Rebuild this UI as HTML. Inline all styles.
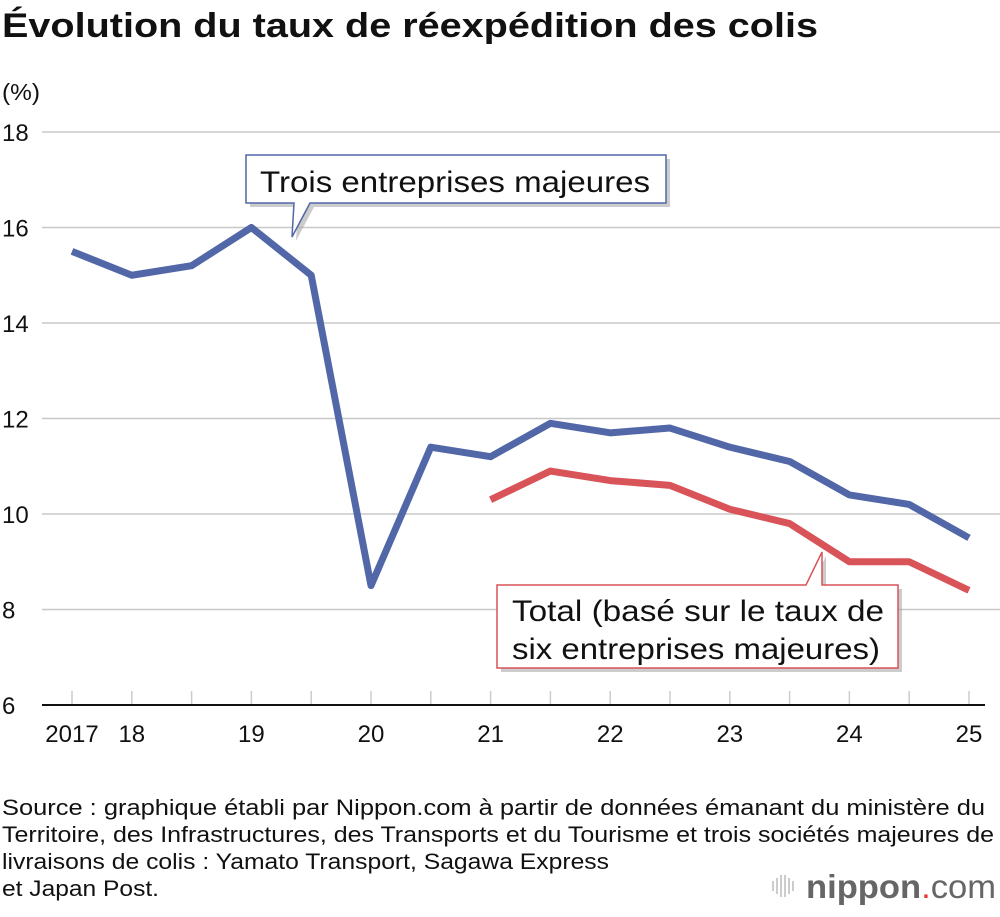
<!DOCTYPE html>
<html><head><meta charset="utf-8"><style>
html,body{margin:0;padding:0;background:#fff;}
body{width:1000px;height:912px;overflow:hidden;font-family:"Liberation Sans",sans-serif;}
</style></head><body>
<svg id="chart" width="1000" height="912" viewBox="0 0 1000 912" xmlns="http://www.w3.org/2000/svg" font-family="Liberation Sans, sans-serif">
<text x="2" y="37" font-size="34" font-weight="bold" fill="#111" textLength="816" lengthAdjust="spacingAndGlyphs">Évolution du taux de réexpédition des colis</text>
<text x="2" y="100" font-size="23" fill="#111" textLength="38" lengthAdjust="spacingAndGlyphs">(%)</text>
<g id="grid"></g>
<g id="marks"></g>
<g>
<path d="M246,155 H666 V203 H310 L292,237 L294,203 H246 Z" fill="#aaa" transform="translate(4,4)" opacity="0.6"/>
<path d="M246,155 H666 V203 H310 L292,237 L294,203 H246 Z" fill="#fff" stroke="#5167a7" stroke-width="1.5"/>
<text x="260" y="192" font-size="30" fill="#111" textLength="390" lengthAdjust="spacingAndGlyphs">Trois entreprises majeures</text>
</g>
<g>
<path d="M497,585 H806 L822,552 V585 H898 V668 H497 Z" fill="#aaa" transform="translate(4,4)" opacity="0.6"/>
<path d="M497,585 H806 L822,552 V585 H898 V668 H497 Z" fill="#fff" stroke="#d95459" stroke-width="1.5"/>
<text x="512" y="621" font-size="30" fill="#111" textLength="372" lengthAdjust="spacingAndGlyphs">Total (basé sur le taux de</text>
<text x="512" y="659" font-size="30" fill="#111" textLength="368" lengthAdjust="spacingAndGlyphs">six entreprises majeures)</text>
</g>
<g font-size="22" fill="#111">
<text x="2" y="815" textLength="983" lengthAdjust="spacingAndGlyphs">Source : graphique établi par Nippon.com à partir de données émanant du ministère du</text>
<text x="2" y="842" textLength="992" lengthAdjust="spacingAndGlyphs">Territoire, des Infrastructures, des Transports et du Tourisme et trois sociétés majeures de</text>
<text x="2" y="869" textLength="607" lengthAdjust="spacingAndGlyphs">livraisons de colis : Yamato Transport, Sagawa Express</text>
<text x="2" y="896" textLength="157" lengthAdjust="spacingAndGlyphs">et Japan Post.</text>
</g>
<g>
<g stroke="#bbb" stroke-width="1.5">
<line x1="773" y1="881" x2="773" y2="891"/><line x1="777" y1="878" x2="777" y2="894"/><line x1="781" y1="875" x2="781" y2="897"/><line x1="785" y1="875" x2="785" y2="897"/><line x1="789" y1="878" x2="789" y2="894"/><line x1="793" y1="881" x2="793" y2="891"/>
</g>
<text x="806" y="898" font-size="33" fill="#666" textLength="190" lengthAdjust="spacingAndGlyphs"><tspan font-weight="bold">nippon</tspan><tspan fill="#e33">.</tspan><tspan>com</tspan></text>
</g>
</svg>
<script>
const categories=["2017","","18","","19","","20","","21","","22","","23","","24","","25"];
const threeMajors=[15.5,15.0,15.2,16.0,15.0,8.5,11.4,11.2,11.9,11.7,11.8,11.4,11.1,10.4,10.2,9.5];
const totalSix=[null,null,null,null,null,null,null,10.3,10.9,10.7,10.6,10.1,9.8,9.0,9.0,8.4];
const yTicks=[6,8,10,12,14,16,18];
const xLabels=[[0,"2017"],[1,"18"],[3,"19"],[5,"20"],[7,"21"],[9,"22"],[11,"23"],[13,"24"],[15,"25"]];
const NS="http://www.w3.org/2000/svg";
const xs=i=>72+i*59.8;
const ys=v=>705-(v-6)*47.75;
function mk(tag,attrs,parent){const e=document.createElementNS(NS,tag);for(const k in attrs)e.setAttribute(k,attrs[k]);parent.appendChild(e);return e;}
const grid=document.getElementById('grid'),marks=document.getElementById('marks');
yTicks.forEach(v=>{
 if(v>6){const l=mk('line',{x1:42,x2:1000,y1:ys(v),y2:ys(v),stroke:'#c8c8c8','stroke-width':1.5},grid);
 
 }
 const t=mk('text',{x:2,y:ys(v)+9,'font-size':24,fill:'#111'},grid);t.textContent=v;
 
 
});
threeMajors.forEach((v,i)=>{const l=mk('line',{x1:xs(i),x2:xs(i),y1:691,y2:705,stroke:'#ccc','stroke-width':1.5},grid);
 
 });
const ax=mk('line',{x1:42,x2:985,y1:705,y2:705,stroke:'#111','stroke-width':2},grid);


xLabels.forEach(([i,s])=>{const t=mk('text',{x:xs(i),y:742,'font-size':24,fill:'#111','text-anchor':'middle'},grid);t.textContent=s;
 
 });
function line(arr,color,name){const pts=[];arr.forEach((v,i)=>{if(v!=null)pts.push(xs(i)+','+ys(v));});
 const p=mk('polyline',{points:pts.join(' '),fill:'none',stroke:color,'stroke-width':7,'stroke-linejoin':'round'},marks);
 
 }
line(threeMajors,'#5167a7','line-three-majors');
line(totalSix,'#d95459','line-total-six');
</script>
</body></html>
